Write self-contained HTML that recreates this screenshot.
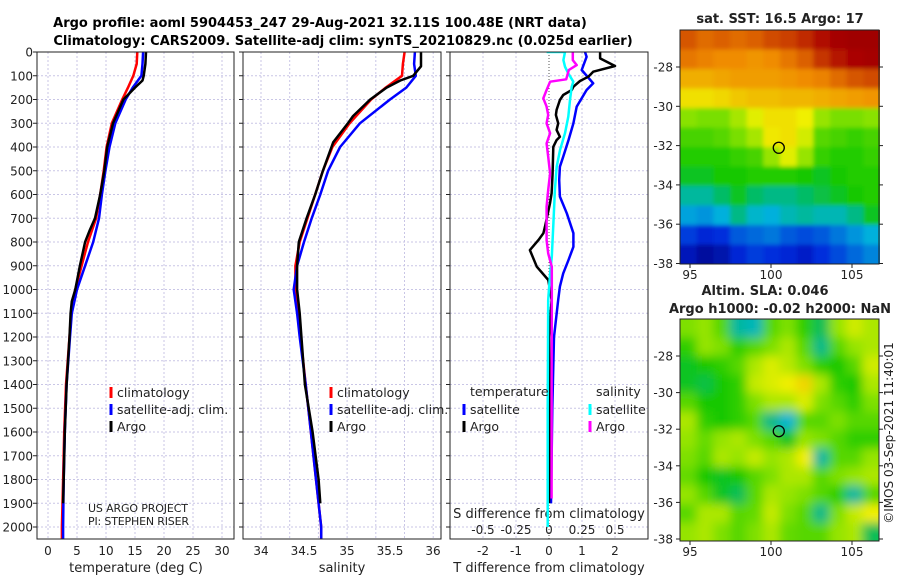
<!DOCTYPE html>
<html><head><meta charset="utf-8">
<style>
body{margin:0;background:#fff;}
svg{display:block;font-family:"DejaVu Sans","Liberation Sans",sans-serif;}
</style></head>
<body>
<svg id="fig" width="900" height="580" viewBox="0 0 900 580" xmlns="http://www.w3.org/2000/svg">
<defs>
<clipPath id="c1"><rect x="37" y="52" width="197" height="487"/></clipPath>
<clipPath id="c2"><rect x="243" y="52" width="198" height="487"/></clipPath>
<clipPath id="c3"><rect x="450" y="52" width="198" height="487"/></clipPath>
<clipPath id="cm1"><rect x="680" y="30" width="200" height="234"/></clipPath>
<clipPath id="cm2"><rect x="680" y="319" width="199" height="222"/></clipPath>
<filter id="bl1" x="-5%" y="-5%" width="110%" height="110%"><feGaussianBlur stdDeviation="2"/></filter>
<filter id="bl2" x="-5%" y="-5%" width="110%" height="110%"><feGaussianBlur stdDeviation="5"/></filter>
</defs>
<text x="320" y="27" font-size="13" font-weight="bold" text-anchor="middle">Argo profile: aoml 5904453_247 29-Aug-2021 32.11S 100.48E (NRT data)</text>
<text x="343" y="45" font-size="13" font-weight="bold" text-anchor="middle">Climatology: CARS2009. Satellite-adj clim: synTS_20210829.nc (0.025d earlier)</text>
<g id="layer"></g>
</svg>
<script>
// ---- profile data ----
const tDepth = [0,50,100,120,150,200,300,400,500,600,700,750,800,900,1000,1050,1100,1200,1400,1600,1800,1900];
const tArgo  = [16.9,16.8,16.5,16.3,15.0,13.0,11.2,10.2,9.7,9.0,8.1,7.2,6.4,5.5,4.7,4.1,3.9,3.7,3.2,2.9,2.7,2.6];
const cDepth = [0,50,100,150,200,300,400,500,600,700,800,900,1000,1100,1200,1400,1600,1800,2000,2050];
const tClim  = [15.4,15.3,14.7,13.8,12.8,11.0,10.1,9.6,9.0,8.3,6.9,5.8,4.7,4.0,3.7,3.1,2.8,2.6,2.4,2.4];
const tSat   = [16.4,16.3,16.1,14.6,13.4,11.6,10.6,9.9,9.3,8.8,7.8,6.4,5.0,4.1,3.8,3.2,2.9,2.7,2.6,2.6];
const sArgo  = [35.86,35.86,35.77,35.62,35.46,35.27,35.07,35.01,34.84,34.72,34.63,34.53,34.44,34.42,34.42,34.45,34.51,34.60,34.67,34.69];
const sDepthA= [0,60,100,120,150,200,270,300,380,500,600,700,800,900,1000,1100,1400,1600,1800,1900];
const sClim  = [35.67,35.65,35.64,35.45,35.28,35.03,34.83,34.72,34.63,34.54,34.45,34.40,34.40,34.43,34.46,34.52,34.58,34.64,34.70,34.70];
const sSat   = [35.79,35.78,35.80,35.69,35.50,35.15,34.92,34.78,34.69,34.59,34.50,34.42,34.38,34.42,34.45,34.52,34.58,34.64,34.70,34.70];
// ---- difference data ----
const dtArgoDepth = [0,27,59,83,104,122,146,160,181,202,244,265,300,328,357,371,399,511,595,637,735,763,792,834,904,960,1044,1200,1500,1900];
const dtArgo = [1.55,1.55,2.0,1.34,1.19,0.94,0.74,0.69,0.43,0.33,0.23,0.21,0.28,0.23,0.33,0.23,0.13,0.11,0.08,0.03,-0.12,-0.17,-0.32,-0.58,-0.37,-0.02,0.08,0.0,0.02,0.0];
const dtSatDepth = [0,20,76,132,160,195,230,300,371,441,483,539,609,679,763,820,876,932,988,1044,1200,1500,1900];
const dtSat = [1.09,1.14,0.99,1.34,1.14,0.99,0.84,0.74,0.59,0.43,0.33,0.31,0.33,0.54,0.74,0.74,0.59,0.43,0.33,0.28,0.15,0.10,0.06];
const dsArgoDepth = [0,34,55,76,115,125,160,195,230,265,300,342,385,441,511,581,651,792,848,904,1044,1400,1880];
const dsArgo = [0.18,0.18,0.21,0.15,0.13,0.008,-0.018,-0.043,-0.018,-0.006,-0.018,0.008,-0.018,-0.006,0.008,-0.006,-0.018,-0.018,-0.006,0.021,0.021,0.02,0.02];
const dsSatDepth = [0,0,34,62,90,125,146,202,272,342,413,483,581,721,862,932,1044,1500,2000];
const dsSat = [-0.018,0.121,0.109,0.121,0.146,0.184,0.172,0.159,0.146,0.121,0.083,0.058,0.045,0.033,0.021,0.008,-0.006,-0.01,-0.01];
// ---- map data ----
const sstGrid = [
[19.5,19.3,19.4,19.3,19.4,19.6,19.7,19.9,20.2,20.4,20.5,20.5],
[19.2,19.1,19.0,19.0,18.9,19.0,19.2,19.4,19.8,20.1,20.3,20.4],
[18.6,18.6,18.7,18.8,18.8,18.8,18.9,19.0,19.1,19.3,19.5,19.6],
[18.0,18.0,18.1,18.3,18.4,18.4,18.5,18.5,18.6,18.7,18.8,18.9],
[17.1,17.0,17.0,17.3,17.7,18.0,18.0,17.8,17.2,17.0,17.0,17.1],
[16.7,16.7,16.8,17.0,17.3,17.9,18.0,17.6,16.8,16.7,16.6,16.7],
[16.5,16.5,16.5,16.6,16.7,17.2,17.7,17.2,16.6,16.5,16.5,16.6],
[16.3,16.3,16.4,16.4,16.5,16.5,16.5,16.4,16.3,16.4,16.5,16.5],
[15.9,15.9,16.1,16.3,16.1,16.0,16.0,16.1,16.2,16.3,16.4,16.5],
[15.5,15.4,15.6,16.0,15.7,15.6,15.8,15.9,15.8,15.8,16.0,16.3],
[14.8,14.6,14.7,15.0,15.1,15.2,15.0,14.9,15.0,15.2,15.4,15.6],
[14.4,14.2,14.3,14.6,14.8,14.7,14.6,14.5,14.7,14.9,15.1,15.3]];
const slaGrid = [
[.58,.60,.55,.40,.38,.55,.58,.52,.45,.60,.65,.62],
[.52,.60,.58,.52,.55,.58,.62,.55,.42,.55,.60,.62],
[.48,.50,.52,.55,.62,.66,.63,.58,.52,.50,.55,.65],
[.48,.46,.50,.52,.64,.66,.68,.72,.62,.52,.50,.62],
[.55,.50,.50,.52,.58,.62,.62,.66,.58,.55,.52,.58],
[.62,.52,.50,.52,.55,.42,.36,.55,.55,.58,.55,.55],
[.60,.56,.60,.62,.58,.55,.48,.60,.58,.55,.52,.52],
[.58,.55,.62,.60,.64,.60,.62,.68,.40,.55,.55,.60],
[.56,.50,.48,.50,.55,.58,.62,.62,.55,.58,.60,.62],
[.60,.55,.48,.45,.55,.62,.60,.58,.55,.52,.40,.55],
[.55,.62,.62,.55,.56,.64,.58,.55,.42,.58,.64,.68],
[.60,.62,.58,.55,.58,.62,.56,.55,.55,.60,.62,.45]];
const argoLon = 100.48, argoLat = -32.11;
const depthTicks = [0,100,200,300,400,500,600,700,800,900,1000,1100,1200,1300,1400,1500,1600,1700,1800,1900,2000];
const tempTicks = [0,5,10,15,20,25,30];
const salTicks = [34,34.5,35,35.5,36];
const dtTicks = [-2,-1,0,1,2];
const dsTicks = [-0.5,-0.25,0,0.25,0.5];
const dsTickLabels = ["-0.5","-0.25","0","0.25","0.5"];
const latTicks = [-28,-30,-32,-34,-36,-38];
const lonTicks = [95,100,105];

// ---- axis functions ----
const yD = d => 52 + d*0.2375;
const xT = v => 48 + v*5.8;
const xS = v => 261 + (v-34)*86;
const xDT = v => 549 + v*33;
const xDS = v => 549 + v*132;
const lonX = v => 690 + (v-95)*16.2;
const lat1Y = v => 67 + (-28 - v)*19.65;
const lat2Y = v => 356 + (-28 - v)*18.3;

const NS = "http://www.w3.org/2000/svg";
const L = document.getElementById('layer');
function mk(tag, attrs, parent){ const e=document.createElementNS(NS,tag); for(const k in attrs) e.setAttribute(k,attrs[k]); (parent||L).appendChild(e); return e; }
function txt(x,y,s,size,anchor,parent){ const t=mk('text',{x:x,y:y,'font-size':size||12,'text-anchor':anchor||'middle',fill:'#222'},parent); t.textContent=s; return t; }
const cmStops = [[0,[0,0,130]],[0.1,[0,40,220]],[0.25,[0,180,220]],[0.31,[0,185,130]],[0.37,[20,200,0]],[0.47,[130,225,0]],[0.585,[240,240,0]],[0.77,[240,140,0]],[0.97,[170,0,0]],[1,[160,0,0]]];
function cmap(t){ t=Math.max(0,Math.min(1,t)); for(let i=1;i<cmStops.length;i++){ const [t1,c1]=cmStops[i]; const [t0,c0]=cmStops[i-1]; if(t<=t1){ const f=(t-t0)/(t1-t0); return 'rgb('+c0.map((c,k)=>Math.round(c+(c1[k]-c)*f)).join(',')+')'; } } return 'rgb(160,0,0)'; }

const panels = [{x0:37,x1:234,clip:'c1',name:'temperature-panel'},{x0:243,x1:441,clip:'c2',name:'salinity-panel'},{x0:450,x1:648,clip:'c3',name:'difference-panel'}];
panels.forEach((p,i)=>{
  const g = mk('g',{});
  
  
  p.g = g;
  depthTicks.forEach(d=>mk('line',{x1:p.x0,x2:p.x1,y1:yD(d),y2:yD(d),stroke:'#c9c6e6','stroke-dasharray':'2,2','stroke-width':1},g));
  depthTicks.forEach(d=>mk('line',{x1:p.x0-4,x2:p.x0,y1:yD(d),y2:yD(d),stroke:'#222'},g));
});
tempTicks.forEach(v=>mk('line',{x1:xT(v),x2:xT(v),y1:52,y2:539,stroke:'#c9c6e6','stroke-dasharray':'2,2'},panels[0].g));
for(let k=0;k<=6;k++){ const x=261+k*28.7; mk('line',{x1:x,x2:x,y1:52,y2:539,stroke:'#c9c6e6','stroke-dasharray':'2,2'},panels[1].g); }
dtTicks.forEach(v=>mk('line',{x1:xDT(v),x2:xDT(v),y1:52,y2:539,stroke:v===0?'#555':'#c9c6e6','stroke-dasharray':v===0?'1,2':'2,2'},panels[2].g));

const dl = mk('g',{});


depthTicks.forEach(d=>txt(33,yD(d)+4.5,String(d),12,'end',dl));

const xl = mk('g',{});


tempTicks.forEach(v=>txt(xT(v),555,String(v),12,'middle',xl));
salTicks.forEach(v=>txt(xS(v),555,String(v),12,'middle',xl));
dtTicks.forEach(v=>txt(xDT(v),555,String(v),12,'middle',xl));
dsTicks.forEach((v,i)=>txt(xDS(v),534,dsTickLabels[i],12,'middle',xl));
const a1=txt(136,572,'temperature (deg C)',13);  
const a2=txt(342,572,'salinity',13);  
const a3=txt(549,572,'T difference from climatology',13);  
const a4=txt(549,518,'S difference from climatology',13);  

function line(xs, ds, xf, color, w, clip, name){
  const pts = xs.map((v,i)=>xf(v).toFixed(1)+','+yD(ds[i]).toFixed(1)).join(' ');
  const pl = mk('polyline',{points:pts,fill:'none',stroke:color,'stroke-width':w,'stroke-linejoin':'round','clip-path':'url(#'+clip+')'});
  
  
  return pl;
}
line(tClim, cDepth, xT, '#f00', 2.5, 'c1', 'temp-climatology-line');
line(tSat, cDepth, xT, '#00f', 2.5, 'c1', 'temp-satellite-line');
line(tArgo, tDepth, xT, '#000', 2.5, 'c1', 'temp-argo-line');
line(sClim, cDepth, xS, '#f00', 2.5, 'c2', 'sal-climatology-line');
line(sSat, cDepth, xS, '#00f', 2.5, 'c2', 'sal-satellite-line');
line(sArgo, sDepthA, xS, '#000', 2.5, 'c2', 'sal-argo-line');
line(dtSat, dtSatDepth, xDT, '#00f', 2.5, 'c3', 'tdiff-satellite-line');
line(dtArgo, dtArgoDepth, xDT, '#000', 2.5, 'c3', 'tdiff-argo-line');
line(dsSat, dsSatDepth, xDS, '#0ff', 2.5, 'c3', 'sdiff-satellite-line');
line(dsArgo, dsArgoDepth, xDS, '#f0f', 2.5, 'c3', 'sdiff-argo-line');

panels.forEach(p=>{ const r=mk('rect',{x:p.x0,y:52,width:p.x1-p.x0,height:487,fill:'none',stroke:'#222','stroke-width':1});   });

function leg(x,y,color,label,name){
  const g=mk('g',{});
  
  
  mk('rect',{x:x-1.5,y:y-10,width:3,height:11,fill:color},g);
  txt(x+6,y,label,12.5,'start',g);
}
leg(111,397,'#f00','climatology','legend-temp-climatology');
leg(111,414,'#00f','satellite-adj. clim.','legend-temp-satellite');
leg(111,431,'#000','Argo','legend-temp-argo');
leg(331,397,'#f00','climatology','legend-sal-climatology');
leg(331,414,'#00f','satellite-adj. clim.','legend-sal-satellite');
leg(331,431,'#000','Argo','legend-sal-argo');
const lt=txt(470,396,'temperature',12.5,'start');  
const ls=txt(596,396,'salinity',12.5,'start');  
leg(464,414,'#00f','satellite','legend-tdiff-satellite');
leg(464,431,'#000','Argo','legend-tdiff-argo');
leg(590,414,'#0ff','satellite','legend-sdiff-satellite');
leg(590,431,'#f0f','Argo','legend-sdiff-argo');
const c1=txt(88,512,'US ARGO PROJECT',11,'start'); c1.setAttribute('textLength','100');  
const c2=txt(88,525,'PI: STEPHEN RISER',11,'start'); c2.setAttribute('textLength','101');  

function drawMap(grid, colorFn, x0, y0, w, h, clip, filter, name){
  const g=mk('g',{'clip-path':'url(#'+clip+')'});
  
  
  const inner=mk('g',{filter:'url(#'+filter+')'},g);
  const rows=grid.length, cols=grid[0].length, cw=w/cols, ch=h/rows;
  grid.forEach((row,r)=>row.forEach((v,c)=>{
    const cell=mk('rect',{x:(x0+c*cw-(c===0?10:0)).toFixed(1),y:(y0+r*ch-(r===0?10:0)).toFixed(1),width:(cw+1+(c===0||c===cols-1?10:0)).toFixed(1),height:(ch+1+(r===0||r===rows-1?10:0)).toFixed(1),fill:colorFn(v)},inner);
    
    
  }));
  return g;
}
drawMap(sstGrid, v=>cmap((v-14.0)/(20.5-14.0)), 680, 30, 200, 234, 'cm1', 'bl1', 'sst-map');
drawMap(slaGrid, v=>cmap(v<0.5 ? 0.37+(v-0.5)*0.8 : 0.37+(v-0.5)*1.2), 680, 319, 199, 222, 'cm2', 'bl2', 'sla-map');
[[30,264,lat1Y,'sst'],[319,541,lat2Y,'sla']].forEach(([top,bot,yf,n])=>{
  const f=mk('rect',{x:680,y:top,width:199,height:bot-top,fill:'none',stroke:'#222'});
  
  
  latTicks.forEach(v=>{ mk('line',{x1:676,x2:680,y1:yf(v),y2:yf(v),stroke:'#222'}); mk('line',{x1:879,x2:883,y1:yf(v),y2:yf(v),stroke:'#222'}); txt(673,yf(v)+4.5,String(v),12,'end'); });
  lonTicks.forEach(v=>{ mk('line',{x1:lonX(v),x2:lonX(v),y1:bot,y2:bot+4,stroke:'#222'}); txt(lonX(v),bot+15,String(v),12,'middle'); });
});
const m1=mk('circle',{cx:lonX(argoLon),cy:lat1Y(argoLat),r:5.5,fill:'none',stroke:'#000','stroke-width':1.3});
 
const m2=mk('circle',{cx:lonX(argoLon),cy:lat2Y(argoLat),r:5.5,fill:'none',stroke:'#000','stroke-width':1.3});
 
const st=txt(780,23,'sat. SST: 16.5 Argo: 17',13); st.setAttribute('font-weight','bold');  
const s1=txt(765,295,'Altim. SLA: 0.046',13); s1.setAttribute('font-weight','bold');  
const s2=txt(780,313,'Argo h1000: -0.02 h2000: NaN',13); s2.setAttribute('font-weight','bold');  
const cp=txt(0,0,'©IMOS 03-Sep-2021 11:40:01',12,'middle'); cp.setAttribute('transform','translate(893,433) rotate(-90)');  
</script>
</body></html>
